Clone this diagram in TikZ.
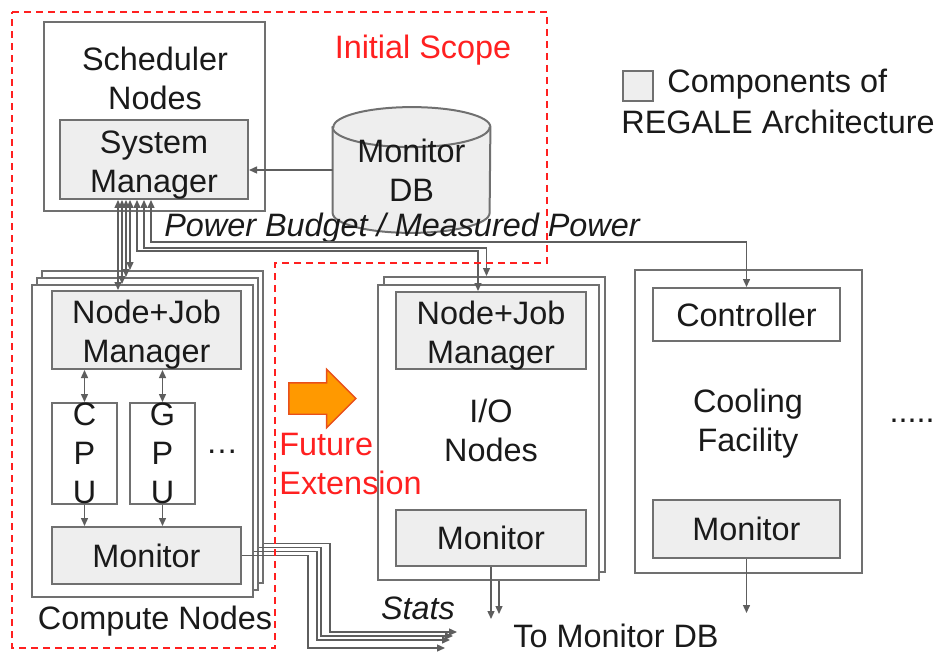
\documentclass[tikz,border=0pt]{standalone}
\usepackage{fontspec}
\setmainfont{Liberation Sans}
\usetikzlibrary{arrows.meta,positioning,calc,shapes.arrows,backgrounds}
\definecolor{ink}{HTML}{1A1A1A}
\definecolor{edge}{HTML}{707070}
\definecolor{wire}{HTML}{5E5E5E}
\definecolor{compgray}{HTML}{EEEEEE}
\definecolor{scope}{HTML}{FF2020}
\definecolor{futfill}{HTML}{FF9900}
\definecolor{futedge}{HTML}{E8501A}
\newcommand{\bodyfont}{\fontsize{16.2}{19.5}\selectfont}

\begin{document}
\begin{tikzpicture}[x=0.5pt, y=-0.5pt,
  font=\bodyfont, text=ink,
  every node/.style={align=center, inner sep=0pt},
  frame/.style={draw=edge, line width=1pt, fill=white},
  comp/.style={frame, fill=compgray},
  scopeline/.style={draw=scope, line width=0.7pt, dash pattern=on 3.5pt off 2.5pt},
  arr/.style={-{Triangle[length=4pt, width=3.5pt]}, draw=wire, line width=0.7pt},
  biarr/.style={{Triangle[length=4pt, width=3.5pt]}-{Triangle[length=4pt, width=3.5pt]}, draw=wire, line width=0.7pt},
  dbcap/.style={x radius=39.25pt, y radius=10pt},
]
\useasboundingbox (0,0) rectangle (946,652);

% scheduler side
\node[frame, minimum width=110.5pt, minimum height=94.5pt] (sched) at (154.5,116.5) {};
\node (schedlbl) at (155,78) {Scheduler\\Nodes};
\node[comp, minimum width=94pt, minimum height=39.5pt] (sysmgr) at (154,159.5) {};
\node (sysmgrlbl) at (154,165) {System\\Manager};
\node[minimum width=78.5pt, minimum height=62.5pt] (mondb) at (411.5,170) {Monitor\\DB};
\begin{scope}[on background layer]
  \filldraw[draw=edge, fill=compgray, line width=1pt]
    ([yshift=-10pt]mondb.north west) -- ([yshift=10pt]mondb.south west)
    arc[start angle=180, end angle=360, dbcap] -- ([yshift=-10pt]mondb.north east)
    arc[start angle=0, end angle=180, dbcap] -- cycle;
  \draw[draw=edge, line width=1pt] ([yshift=-10pt]mondb.north west) arc[start angle=180, end angle=360, dbcap];
\end{scope}
\node[text=scope] (initlbl) at (423,50) {Initial Scope};

% legend
\node[comp, minimum size=15pt] (legbox) at (638,86) {};
\node[anchor=west] (legtxt) at (667,84) {Components of};
\node[anchor=west] (legtxt2) at (621,122) {REGALE Architecture};

% compute nodes
\node[frame, minimum width=110.5pt, minimum height=156pt] (cback) at (152.5,427) {};
\node[frame, minimum width=110.5pt, minimum height=156pt] (cmid) at (147.5,434) {};
\node[frame, minimum width=110.5pt, minimum height=156pt] (cfront) at (142.5,441) {};
\node (cmplbl) at (155,621) {Compute Nodes};
\node[comp, minimum width=94.5pt, minimum height=39pt] (cnjm) at (146.5,330) {};
\node (cnjmlbl) at (146.5,335) {Node+Job\\Manager};
\node[frame, minimum width=32.5pt, minimum height=50.5pt] (cpu) at (84.5,453.5) {};
\node (cpulbl) at (cpu) {C\\P\\U};
\node[frame, minimum width=32.5pt, minimum height=50.5pt] (gpu) at (162.5,453.5) {};
\node (gpulbl) at (gpu) {G\\P\\U};
\node (moredev) at (222,452) {\dots};
\node[comp, minimum width=94.5pt, minimum height=28.5pt] (cmon) at (146.5,555.5) {Monitor};

% i/o nodes
\node[frame, minimum width=110.5pt, minimum height=147.5pt] (iomid) at (494.5,424.5) {};
\node[frame, minimum width=110.5pt, minimum height=147.5pt] (iofront) at (488.5,432.5) {};
\node[comp, minimum width=95pt, minimum height=38.5pt] (ionjm) at (491,330.5) {};
\node (ionjmlbl) at (491,335.5) {Node+Job\\Manager};
\node (iolbl) at (491,430) {I/O\\Nodes};
\node[comp, minimum width=95pt, minimum height=28pt] (iomon) at (491,538) {Monitor};

% future extension
\node[single arrow, draw=futedge, fill=futfill, line width=0.7pt, minimum height=33.5pt,
      inner xsep=0pt, inner ysep=7.5pt, single arrow head extend=6.75pt] (futarrow) at (314.5,398.5) {};
\node[anchor=west, align=left, text=scope] (futlbl) at (279,464) {Future\\Extension};

% cooling
\node[frame, minimum width=113.5pt, minimum height=151.5pt] (cool) at (748.5,421.5) {};
\node[frame, minimum width=93.5pt, minimum height=26.5pt] (ctrl) at (746.5,314.5) {Controller};
\node (coollbl) at (748,424) {Cooling\\Facility};
\node[comp, minimum width=93.5pt, minimum height=29pt] (coolmon) at (746.5,529) {Monitor};
\node (etc) at (912,421) {.....};

% labels
\node[font=\bodyfont\itshape] (pwrlbl) at (402,228) {Power Budget / Measured Power};
\node[font=\bodyfont\itshape] (statslbl) at (418,608) {Stats};
\node (tomondb) at (616,636) {To Monitor DB};
\coordinate (statsend) at (445,648);

% wires
\draw[arr] (mondb.west) -- (mondb.west -| sysmgr.east);
\draw[biarr] ($(sysmgr.south)+(-36,0)$) -- ($(sysmgr.south |- cnjm.north)+(-36,0)$);
\draw[biarr] ($(sysmgr.south)+(-32,0)$) -- ($(sysmgr.south |- cfront.north)+(-32,0)$);
\draw[biarr] ($(sysmgr.south)+(-28,0)$) -- ($(sysmgr.south |- cmid.north)+(-28,0)$);
\draw[biarr] ($(sysmgr.south)+(-24,0)$) -- ($(sysmgr.south |- cback.north)+(-24,0)$);
\draw[biarr] ($(sysmgr.south)+(-17,0)$) -- ++(0,51) -| ($(ionjm.north)+(-13,0)$);
\draw[biarr] ($(sysmgr.south)+(-10,0)$) -- ++(0,48) -| ($(iomid.north)+(-8,0)$);
\draw[biarr] ($(sysmgr.south)+(-3,0)$) -- ++(0,42) -| (ctrl.north);
\draw[biarr] (cpu.north |- cnjm.south) -- (cpu.north);
\draw[biarr] (gpu.north |- cnjm.south) -- (gpu.north);
\draw[arr] (cpu.south) -- (cpu.south |- cmon.north);
\draw[arr] (gpu.south) -- (gpu.south |- cmon.north);
\draw[arr] (cmon.east) -- ++(66,0) |- (statsend);
\draw[arr] ($(cfront.east |- cmon.east)+(0,-4)$) -- ++(63,0) |- ($(statsend)+(5,-8)$);
\draw[arr] ($(cmid.east |- cmon.east)+(0,-8)$) -- ++(62,0) |- ($(statsend)+(8,-12)$);
\draw[arr] ($(cback.east |- cmon.east)+(0,-12)$) -- ++(66,0) |- ($(statsend)+(12,-16)$);
\draw[arr] (iomon.south) -- ++(0,52);
\draw[arr] ($(iofront.south)+(10.5,0)$) -- ++(0,33);
\draw[arr] (coolmon.south) -- ++(0,54);

% scope outline
\draw[scopeline] (12,12) -- (547,12) -- (547,263) -- (275,263) -- (275,648) -- (12,648) -- cycle;
\end{tikzpicture}
\end{document}
